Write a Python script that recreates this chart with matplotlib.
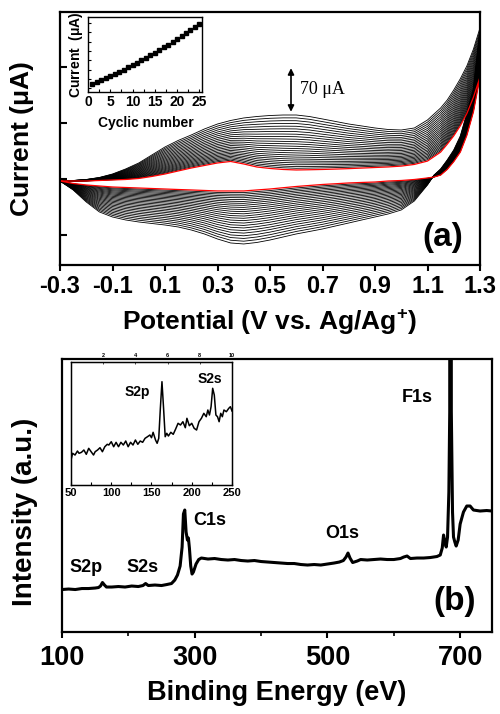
import matplotlib
matplotlib.use('Agg')
import matplotlib.pyplot as plt
import numpy as np

plt.rcParams['font.family'] = ['Liberation Sans', 'DejaVu Sans']
plt.rcParams['font.weight'] = 'bold'
plt.rcParams['axes.unicode_minus'] = False
plt.rcParams['mathtext.fontset'] = 'custom'
plt.rcParams['mathtext.rm'] = 'Liberation Sans'
plt.rcParams['mathtext.bf'] = 'Liberation Sans:bold'
plt.rcParams['mathtext.it'] = 'Liberation Sans:italic'

# ---- panel (a): cyclic voltammetry, 25 cycles ----
potential_fwd = [-0.30, -0.25, -0.20, -0.15, -0.10, -0.05, 0.00, 0.05, 0.10, 0.15, 0.20, 0.25,
                 0.30, 0.35, 0.40, 0.45, 0.50, 0.55, 0.60, 0.65, 0.70, 0.75, 0.80, 0.85,
                 0.90, 0.95, 1.00, 1.05, 1.10, 1.15, 1.175, 1.20, 1.225, 1.25, 1.275, 1.30]
# first cycle (red), forward scan, uA
first_fwd = [-3.6, -3.6, -3.6, -2.7, -1.8, -0.9, 0.9, 4.5, 8.9, 14.3, 19.6, 24.1,
             28.6, 31.3, 26.8, 21.4, 18.8, 17.0, 16.1, 16.5, 17.0, 17.7, 18.5, 19.5,
             20.5, 21.5, 23.0, 26.0, 32.0, 48, 62, 77, 95, 117, 146, 182]
# last cycle, forward scan
last_fwd = [-3.6, -2.7, -0.9, 2.7, 8.9, 17.9, 28.6, 42.9, 57.2, 68.8, 78.6, 89.3,
            98.2, 104.5, 109, 111.6, 113.4, 114.3, 114.3, 111.6, 107.2, 102.7, 98.2, 94.7,
            91.1, 88.4, 87.5, 91.1, 105.4, 126.8, 141, 159, 179, 202, 232, 270]

potential_rev = [1.30, 1.275, 1.25, 1.225, 1.20, 1.175, 1.15, 1.125, 1.10, 1.05, 1.00, 0.95,
                 0.90, 0.85, 0.80, 0.75, 0.70, 0.65, 0.60, 0.55, 0.50, 0.45, 0.40, 0.35,
                 0.30, 0.25, 0.20, 0.15, 0.10, 0.05, 0.00, -0.05, -0.10, -0.15, -0.20, -0.25, -0.30]
first_rev = [182, 120, 78, 48, 31, 17, 7, 3.5, 1.8, -0.9, -2.7, -3.6,
             -5.4, -6.2, -7.1, -8.5, -9.8, -11.6, -13.4, -15.6, -17.9, -19.6, -21.4, -21.4,
             -21.4, -20.5, -19.6, -18.8, -17.9, -17.0, -16.1, -15.2, -14.3, -12.5, -10.7, -8.0, -3.6]
last_rev = [270, 162, 118, 77, 52, 34, 18, 7, -10.7, -39.3, -55.4, -62.5,
            -67.9, -73.2, -78.6, -83.9, -89.3, -93.8, -98.2, -103.6, -109, -113.4, -116.1, -114.3,
            -107.2, -98.2, -91.1, -85.7, -82.2, -79.5, -76.8, -73.2, -67.9, -58.9, -41.1, -19.6, -3.6]

# inset: peak current vs cycle number
cycle_no = list(range(1, 26))
peak_current = [17.0, 20.0, 23.0, 26.2, 29.4, 32.8, 36.2, 39.7, 43.3, 47.1, 50.9, 54.8, 58.8,
                62.9, 67.0, 71.3, 75.7, 80.1, 84.7, 89.4, 94.1, 99.0, 103.9, 108.9, 114.0]

cv_ticks = [-0.3, -0.1, 0.1, 0.3, 0.5, 0.7, 0.9, 1.1, 1.3]
cv_ticklabels = ['-0.3', '-0.1', '0.1', '0.3', '0.5', '0.7', '0.9', '1.1', '1.3']

# ---- panel (b): XPS survey ----
be = [100, 110, 120, 130, 140, 150, 155, 158, 161, 164, 167, 175, 185, 195, 205, 215, 222, 226,
      230, 240, 250, 258, 265, 270, 274, 278, 281, 283, 285, 287, 289, 290.5, 292, 294, 296, 298,
      302, 306, 310, 320, 330, 340, 350, 360, 370, 380, 390, 400, 410, 420, 430, 440, 450, 460,
      470, 480, 490, 500, 510, 518, 524, 528, 531, 534, 538, 545, 550, 560, 570, 580, 590, 600,
      610, 615, 620, 625, 635, 645, 655, 665, 670, 673, 675, 677, 679, 681, 683, 684.3, 685, 686,
      686.7, 688.5, 690, 692, 694, 697, 700, 705, 710, 715, 720, 730, 740, 748]
intensity = [42.5, 43, 42.5, 43.5, 43.5, 44, 44.5, 46, 49.5, 47, 45, 45, 45.5, 45, 46, 45.5, 46.5, 48.5,
             46.5, 47, 46.5, 47.5, 48.5, 52, 57, 66, 85, 118, 122, 100, 92, 94, 84, 66, 58, 60,
             68, 72.5, 74, 73, 73.5, 72.5, 72, 72.5, 71.5, 71, 71.5, 70.5, 70, 69.5, 69, 68.5, 68.5, 67.5,
             67, 67.5, 67, 68, 69, 70, 71.5, 75, 79, 74, 69.5, 71, 72.5, 72, 72.5, 73, 72.5, 72.5,
             73.5, 75, 76, 73.5, 74, 74, 74.5, 75.5, 77, 84, 97, 90, 85, 95, 140, 220, 3000, 3000,
             220, 120, 95, 90, 86, 92, 108, 120, 126, 126, 122, 121, 121.5, 121]

# inset: S 2p / S 2s region
be_s = [50, 52, 55, 58, 60, 63, 66, 69, 72, 75, 78, 80, 83, 86, 89, 92, 95, 97, 100, 103, 106, 109,
        112, 115, 118, 121, 124, 127, 130, 133, 136, 139, 142, 145, 148, 150, 152, 155, 157, 159,
        161, 163, 165, 167, 169, 171, 174, 177, 180, 183, 186, 189, 192, 194, 197, 200, 203, 206,
        209, 212, 215, 218, 220, 222, 224, 226, 228, 230, 232, 234, 236, 238, 240, 243, 246, 248, 250]
int_s = [25, 31.7, 30, 34, 31.7, 32.7, 35, 30.7, 36.7, 33.3, 30, 33.3, 35, 37.3, 33.3, 38.3, 40.7, 40,
         43.3, 38.3, 42.7, 38.3, 42.7, 40, 44, 38.3, 42.7, 40, 45, 40.7, 44, 42.7, 46.7, 48.3, 50, 47.3,
         52.7, 45, 41.7, 46.7, 76.7, 103.3, 76.7, 48.3, 51.7, 49, 52.7, 50.7, 56, 61.7, 60, 63.3, 57.3,
         66.7, 59.3, 61.7, 56.7, 55, 63.3, 66.7, 71.7, 68.3, 75, 70, 78.3, 96.7, 90, 70, 68.3, 63.3,
         71.7, 68.3, 75, 73.3, 76.7, 78.3, 74]

fig = plt.figure(figsize=(5, 7.14), dpi=100)

# ---------------- (a) ----------------
ax1 = fig.add_axes([0.12, 0.6289, 0.84, 0.3543])
e_f = np.array(potential_fwd)
e_r = np.array(potential_rev)
pk = np.array(peak_current)
frac = (pk - pk[0]) / (pk[-1] - pk[0])
for f in frac[1:]:
    yf = np.array(first_fwd) + f * (np.array(last_fwd) - np.array(first_fwd))
    yr = np.array(first_rev) + f * (np.array(last_rev) - np.array(first_rev))
    ax1.plot(np.concatenate([e_f, e_r]), np.concatenate([yf, yr]), color='black', lw=0.6)
ax1.plot(np.concatenate([e_f, e_r]), np.concatenate([first_fwd, first_rev]), color='red', lw=0.9)

ax1.set_xlim(-0.3, 1.3)
ax1.set_ylim(-153.6, 298.3)
ax1.set_xticks(cv_ticks)
ax1.set_xticklabels(cv_ticklabels)
ax1.set_yticks([-100, 0, 100, 200])
ax1.set_yticklabels([])
ax1.tick_params(axis='x', direction='out', length=4, width=1.5, labelsize=17, pad=3)
ax1.tick_params(axis='y', direction='in', length=5, width=1.5)
for s in ax1.spines.values():
    s.set_linewidth(1.6)
ax1.set_xlabel(r'Potential (V vs. Ag/Ag$^{\mathbf{+}}$)', fontsize=19, fontweight='bold')
ax1.xaxis.set_label_coords(0.5, -0.225)
ax1.xaxis.label.set_va('center')
ax1.set_ylabel(r'Current $\mathrm{(μA)}$', fontsize=19, fontweight='bold')
ax1.yaxis.set_label_coords(-0.09, 0.5)
ax1.yaxis.label.set_va('center')
ax1.text(0.912, 0.107, '(a)', transform=ax1.transAxes, fontsize=24, fontweight='bold',
         ha='center', va='center')

ax1.annotate('', xy=(0.58, 198), xytext=(0.58, 120),
             arrowprops=dict(arrowstyle='<|-|>', color='black', lw=1.2, mutation_scale=9,
                             shrinkA=0, shrinkB=0))
ax1.text(0.614, 159, '70 μA', family='Liberation Serif', fontsize=13, fontweight='normal',
         va='center', ha='left')

# inset (a)
ins1 = fig.add_axes([0.176, 0.8711, 0.228, 0.105])
ins1.plot(cycle_no, peak_current, 's', color='black', ms=3)
ins1.set_xlim(0, 25.6)
ins1.set_ylim(3.6, 124.8)
ins1.set_xticks([0, 5, 10, 15, 20, 25])
ins1.set_xticks(np.arange(2.5, 25, 5), minor=True)
ins1.set_yticks(np.arange(10, 125, 15))
ins1.set_yticklabels([])
ins1.tick_params(axis='both', which='both', direction='in', length=2, width=0.8,
                 labelsize=10, pad=2)
for s in ins1.spines.values():
    s.set_linewidth(1.0)
ins1.set_xlabel('Cyclic number', fontsize=10, fontweight='bold')
ins1.xaxis.set_label_coords(0.51, -0.41)
ins1.xaxis.label.set_va('center')
ins1.set_ylabel(r'Current  $\mathrm{(μA)}$', fontsize=10, fontweight='bold')
ins1.yaxis.set_label_coords(-0.105, 0.5)
ins1.yaxis.label.set_va('center')

# ---------------- (b) ----------------
ax2 = fig.add_axes([0.124, 0.1148, 0.86, 0.3824])
ax2.plot(be, intensity, color='black', lw=2.2)
ax2.set_xlim(100, 748)
ax2.set_ylim(0, 273)
ax2.set_xticks([100, 300, 500, 700])
ax2.set_xticks([200, 400, 600], minor=True)
ax2.set_yticks([])
ax2.tick_params(axis='x', which='major', direction='out', length=4, width=1.5,
                labelsize=19.5, pad=5)
ax2.tick_params(axis='x', which='minor', direction='out', length=3, width=1.2)
for s in ax2.spines.values():
    s.set_linewidth(1.6)
ax2.set_xlabel('Binding Energy (eV)', fontsize=19.5, fontweight='bold')
ax2.xaxis.set_label_coords(0.5, -0.223)
ax2.xaxis.label.set_va('center')
ax2.set_ylabel('Intensity (a.u.)', fontsize=20, fontweight='bold')
ax2.yaxis.set_label_coords(-0.086, 0.44)
ax2.yaxis.label.set_va('center')

peak_labels = [('C1s', 322, 112), ('O1s', 523, 99), ('S2p', 136, 65), ('S2s', 221, 65),
               ('F1s', 636, 235)]
for lab, x, y in peak_labels:
    ax2.text(x, y, lab, fontsize=13, fontweight='bold', ha='center', va='center')
ax2.text(0.914, 0.11, '(b)', transform=ax2.transAxes, fontsize=24, fontweight='bold',
         ha='center', va='center')

# inset (b)
ins2 = fig.add_axes([0.142, 0.3207, 0.322, 0.1723])
ins2.plot(be_s, int_s, color='black', lw=1.1)
ins2.set_xlim(50, 250)
ins2.set_ylim(0, 123)
ins2.set_xticks([50, 100, 150, 200, 250])
ins2.set_xticks([75, 125, 175, 225], minor=True)
ins2.set_yticks([])
ins2.tick_params(axis='x', which='both', direction='in', length=2, width=0.8,
                 labelsize=8, pad=2)
for s in ins2.spines.values():
    s.set_linewidth(1.0)
ins2.text(132, 93, 'S2p', fontsize=10, fontweight='bold', ha='center', va='center')
ins2.text(222.7, 106, 'S2s', fontsize=10, fontweight='bold', ha='center', va='center')
top2 = ins2.twiny()
top2.set_xlim(0, 10)
top2.set_xticks([2, 4, 6, 8, 10])
top2.tick_params(axis='x', direction='in', length=1.5, width=0.5, labelsize=4, pad=3)

fig.savefig('out.png', dpi=100)
